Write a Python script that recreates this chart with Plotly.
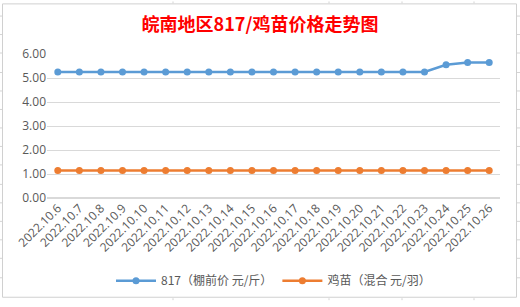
import plotly.graph_objects as go

dates = ["2022.10.6", "2022.10.7", "2022.10.8", "2022.10.9", "2022.10.10", "2022.10.11",
         "2022.10.12", "2022.10.13", "2022.10.14", "2022.10.15", "2022.10.16", "2022.10.17",
         "2022.10.18", "2022.10.19", "2022.10.20", "2022.10.21", "2022.10.22", "2022.10.23",
         "2022.10.24", "2022.10.25", "2022.10.26"]
price_817 = [5.25] * 18 + [5.55, 5.65, 5.65]
price_chick = [1.15] * 21
name_817 = "817（棚前价 元/斤）"
name_chick = "鸡苗（混合 元/羽）"
title_text = "皖南地区817/鸡苗价格走势图"
y_ticks = [0, 1, 2, 3, 4, 5, 6]

W, H = 520, 307
ML, MR, MT, MB = 47, 20, 54, 105
PW, PH = W - ML - MR, H - MT - MB


def px(x):
    return (x - ML) / PW


def py(y):
    return (H - MB - y) / PH


fig = go.Figure()
fig.add_trace(go.Scatter(x=dates, y=price_817, name=name_817, mode="lines+markers",
                         line=dict(color="#5B9BD5", width=2.5),
                         marker=dict(size=7, color="#5B9BD5")))
fig.add_trace(go.Scatter(x=dates, y=price_chick, name=name_chick, mode="lines+markers",
                         line=dict(color="#ED7D31", width=2.5),
                         marker=dict(size=7, color="#ED7D31")))

grid = "#d4d4d4"
shapes = [dict(type="rect", xref="paper", yref="paper",
               x0=px(2.5), x1=px(516.5), y0=py(304), y1=py(2.5),
               line=dict(color="#d0d0d0", width=1), layer="below")]
# spreadsheet cell gridlines outside the chart
for yy in [15, 34, 53, 73, 92, 111, 130, 149, 168, 188, 207, 226, 245, 264, 284]:
    shapes.append(dict(type="line", xref="paper", yref="paper",
                       x0=px(517), x1=px(520), y0=py(yy), y1=py(yy),
                       line=dict(color=grid, width=1)))
    shapes.append(dict(type="line", xref="paper", yref="paper",
                       x0=px(0), x1=px(2), y0=py(yy), y1=py(yy),
                       line=dict(color=grid, width=1)))
for xx in [173, 329, 402, 474]:
    shapes.append(dict(type="line", xref="paper", yref="paper",
                       x0=px(xx), x1=px(xx), y0=py(305), y1=py(307),
                       line=dict(color=grid, width=1)))
    shapes.append(dict(type="line", xref="paper", yref="paper",
                       x0=px(xx), x1=px(xx), y0=py(0), y1=py(2),
                       line=dict(color=grid, width=1)))

fig.update_layout(
    width=W, height=H,
    margin=dict(l=ML, r=MR, t=MT, b=MB),
    paper_bgcolor="white", plot_bgcolor="white",
    title=dict(text="<b>" + title_text + "</b>", x=0.5, xanchor="center",
               y=1 - 25 / H, yanchor="middle",
               font=dict(family="Noto Sans CJK SC", size=18, color="#FF0000")),
    font=dict(family="Noto Sans CJK SC, Open Sans", color="#595959"),
    xaxis=dict(type="category", range=[-0.5, 20.5], showgrid=False, zeroline=False,
               showline=False, ticks="", tickangle=-45,
               tickfont=dict(size=12, color="#595959", family="Open Sans")),
    yaxis=dict(range=[0, 6], tickvals=y_ticks, tickformat=".2f", showgrid=True,
               gridcolor="#d9d9d9", gridwidth=1, zeroline=True, zerolinecolor="#d9d9d9",
               showline=False, ticks="", ticklen=0,
               tickfont=dict(size=12, color="#595959", family="Open Sans")),
    legend=dict(orientation="h", x=0.5, xanchor="center", y=py(287), yanchor="middle",
                font=dict(size=12, color="#595959"), itemwidth=40,
                bgcolor="rgba(0,0,0,0)"),
    shapes=shapes,
    showlegend=True,
)

fig.write_html("out.html")
